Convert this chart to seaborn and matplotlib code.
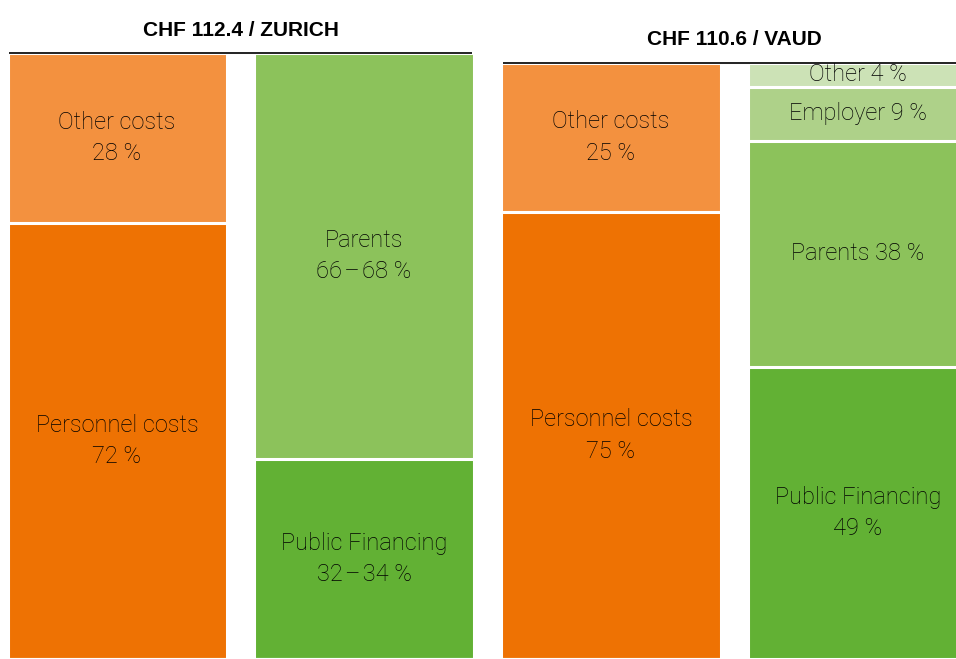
import pandas as pd
import seaborn as sns
import matplotlib.pyplot as plt

### DATA
regions = ['ZURICH', 'VAUD']
totals = [112.4, 110.6]  # CHF

cost_labels = ['Personnel costs', 'Other costs']
zh_cost = [72, 28]
vd_cost = [75, 25]

zh_fin_labels = ['Public Financing', 'Parents']
zh_fin_low = [32, 66]
zh_fin_high = [34, 68]

vd_fin_labels = ['Public Financing', 'Parents', 'Employer', 'Other']
vd_fin = [49, 38, 9, 4]

### STYLE
c_personnel = '#EE7203'
c_other_cost = '#F3913F'
c_public = '#62B134'
c_parents = '#8CC25B'
c_employer = '#AED189'
c_other_fin = '#CCE2B6'

sns.set_style('white')
plt.rcParams['font.family'] = ['Roboto', 'DejaVu Sans']

# bars (bottom-up segments): (label text, percent, colour)
zh_fin_mid = [(lo + hi) / 2 for lo, hi in zip(zh_fin_low, zh_fin_high)]
bars = {
    'ZH costs': (totals[0], [
        (f'{cost_labels[0]}\n{zh_cost[0]} %', zh_cost[0], c_personnel),
        (f'{cost_labels[1]}\n{zh_cost[1]} %', zh_cost[1], c_other_cost)]),
    'ZH financing': (totals[0], [
        (f'{zh_fin_labels[0]}\n{zh_fin_low[0]}\u200a\u2013\u200a{zh_fin_high[0]} %', zh_fin_mid[0], c_public),
        (f'{zh_fin_labels[1]}\n{zh_fin_low[1]}\u200a\u2013\u200a{zh_fin_high[1]} %', zh_fin_mid[1], c_parents)]),
    'VD costs': (totals[1], [
        (f'{cost_labels[0]}\n{vd_cost[0]} %', vd_cost[0], c_personnel),
        (f'{cost_labels[1]}\n{vd_cost[1]} %', vd_cost[1], c_other_cost)]),
    'VD financing': (totals[1], [
        (f'{vd_fin_labels[0]}\n{vd_fin[0]} %', vd_fin[0], c_public),
        (f'{vd_fin_labels[1]} {vd_fin[1]} %', vd_fin[1], c_parents),
        (f'{vd_fin_labels[2]} {vd_fin[2]} %', vd_fin[2], c_employer),
        (f'{vd_fin_labels[3]} {vd_fin[3]} %', vd_fin[3], c_other_fin)]),
}
order = list(bars.keys())

## FIGURE
fig = plt.figure(figsize=(9.56, 6.59), dpi=100)
ax = fig.add_axes([0, 0, 1, 1])

bar_w = 0.887  # white edges eat ~1.5 px on each side

# Draw stacked bars as overlapping cumulative bars, largest first
n_layers = max(len(segs) for _, segs in bars.values())
for layer in range(n_layers):
    rows = []
    palette = {}
    for name in order:
        total, segs = bars[name]
        idx = len(segs) - 1 - layer
        if idx < 0:
            rows.append({'bar': name, 'value': 0.0})
            palette[name] = 'white'
            continue
        cum = sum(s[1] for s in segs[:idx + 1])
        rows.append({'bar': name, 'value': cum / 100 * total})
        palette[name] = segs[idx][2]
    df = pd.DataFrame(rows)
    sns.barplot(
        data=df, x='bar', y='value', hue='bar', order=order, hue_order=order,
        palette=palette, legend=False, width=bar_w, saturation=1,
        edgecolor='white', linewidth=2.2, ax=ax,
    )

# Segment labels
for pos, name in enumerate(order):
    total, segs = bars[name]
    base = 0
    for text, pct, _ in segs:
        h = pct / 100 * total
        ax.text(pos, base + h / 2, text, ha='center', va='center',
                fontsize=17, fontweight='light', color='black', linespacing=1.45)
        base += h

# Top rule and group titles
w = 0.875 / 2
for g, (region, total) in enumerate(zip(regions, totals)):
    left, right = 2 * g - w, 2 * g + 1 + w
    ax.hlines(total, left, right, color='#222222', linewidth=1.4)
    ax.text(2 * g + 0.5, total + 4.3, f'CHF {total} / {region}', ha='center', va='center',
            fontsize=15, fontweight='bold', color='black', family=['Liberation Sans', 'DejaVu Sans'])

ax.set_xlim(-0.474, 3.397)
ax.set_ylim(0, 122.3)
ax.axis('off')

plt.savefig('out.png', dpi=100)
plt.close()
